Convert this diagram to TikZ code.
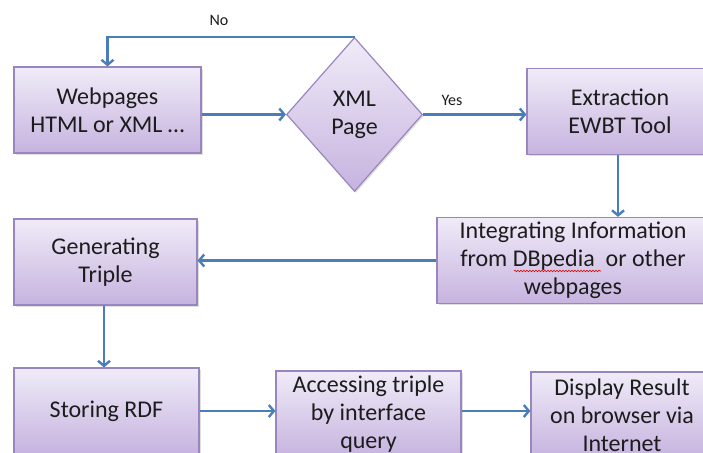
\documentclass[tikz,border=0pt]{standalone}
\usepackage{fontspec}
\setmainfont{Carlito}
\usetikzlibrary{shapes.geometric,arrows.meta,shadows,decorations.pathmorphing}
\definecolor{flowblue}{HTML}{4A7EBB}
\definecolor{boxline}{HTML}{9A86BE}
\definecolor{boxtop}{HTML}{F0EBF8}
\definecolor{boxbot}{HTML}{C6B3DF}
\definecolor{txt}{HTML}{1C1C1C}
\begin{document}
\begin{tikzpicture}[x=1pt,y=-1pt,
  shade/.style={draw=boxline, line width=1.2pt, top color=boxtop, bottom color=boxbot,
    drop shadow={shadow xshift=1.5pt, shadow yshift=-1.5pt, opacity=0.25}},
  box/.style={shade, rectangle, align=center, text=txt, inner sep=0pt,
    font=\fontsize{24}{28}\selectfont, minimum width=#1, minimum height=86pt},
  decision/.style={shade, diamond, align=center, text=txt, inner sep=0pt,
    font=\fontsize{24}{28}\selectfont, minimum width=136pt, minimum height=154pt},
  arr/.style={draw=flowblue, line width=2.4pt, -{Straight Barb[length=5pt,width=12pt,line width=2.4pt]}},
  lbl/.style={text=txt, font=\fontsize{16}{18}\selectfont, inner sep=0pt}]
\useasboundingbox (0,0) rectangle (703,452);
\clip (0,0) rectangle (703,452);

% process steps
\node[box=187pt] (web)   at (107.5,110) {Webpages\\HTML or XML \dots};
\node[decision]  (xml)   at (354.5,114.5) {XML\\Page};
\node[box=186pt] (ext)   at (620,111.5) {Extraction\\EWBT Tool};
\node[box=272pt] (integ) at (573,260.5) {Integrating Information\\from DBpedia\ \ or other\\webpages};
\node[box=183pt] (gen)   at (105.5,262) {Generating\\Triple};
\node[box=185pt] (store) at (106.5,411) {Storing RDF};
\node[box=185pt] (acc)   at (368.5,414) {Accessing triple\\by interface\\query};
\node[box=182pt] (disp)  at (622,415) {Display Result\\on browser via\\Internet};

% spell-check underline below DBpedia
\draw[red!85!black, line width=0.6pt, decorate,
  decoration={snake, amplitude=0.8pt, segment length=3pt}]
  (514,271) -- (601,271);

% connectors
\draw[arr] (xml.north) -| (web.north);
\node[lbl] (no) at (219,20) {No};
\draw[arr] (xml.west -| web.east) -- (xml.west);
\draw[arr] (xml.east) -- (xml.east -| ext.west);
\node[lbl] (yes) at (452,100) {Yes};
\draw[arr] (ext.south -| 618,0) -- (integ.north -| 618,0);
\draw[arr] (integ.west) -- (integ.west -| gen.east);
\draw[arr] (gen.south -| 104,0) -- (store.north -| 104,0);
\draw[arr] (store.east) -- (store.east -| acc.west);
\draw[arr] (acc.east |- store.east) -- (disp.west |- store.east);
\end{tikzpicture}
\end{document}
